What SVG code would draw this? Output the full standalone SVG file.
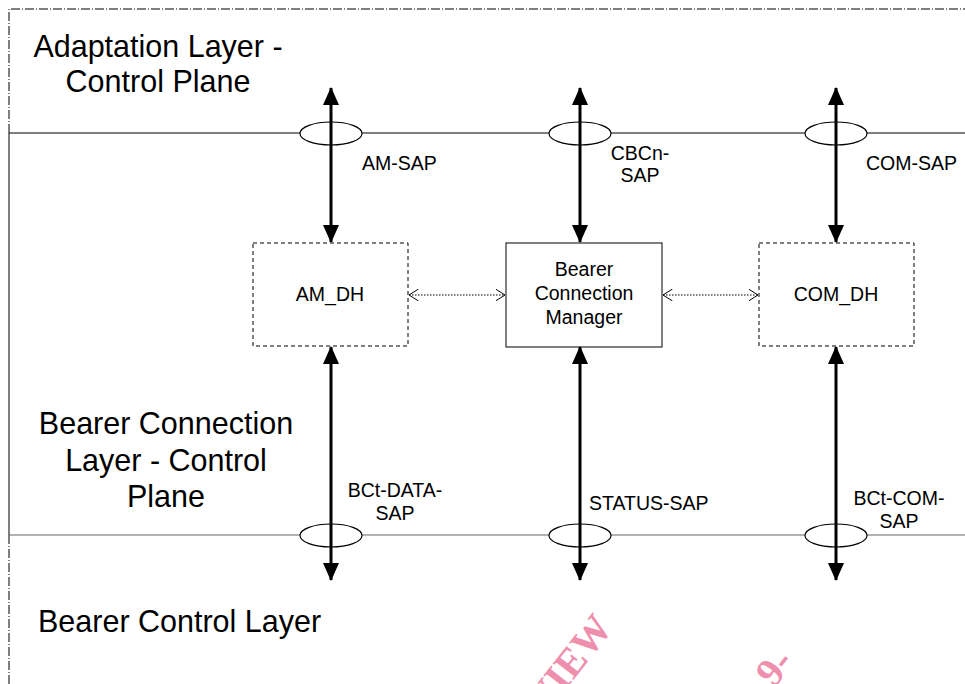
<svg xmlns="http://www.w3.org/2000/svg" width="965" height="684" viewBox="0 0 965 684">
<style>
text{font-family:"Liberation Sans",Arial,sans-serif;fill:#000}
.big{font-size:30.5px}
.sm{font-size:19.5px}
.box{fill:#fff;stroke:#000;stroke-width:1}
.dbox{fill:#fff;stroke:#000;stroke-width:1;stroke-dasharray:4,3}
.border{fill:none;stroke:#000;stroke-width:1;stroke-dasharray:9,2,1,2}
.sap{fill:#fff;stroke:#000;stroke-width:1.2}
.thick{stroke:#000;stroke-width:3;fill:none;marker-start:url(#ah);marker-end:url(#ah)}
.dot{stroke:#000;stroke-width:1;stroke-dasharray:1.5,1.5;fill:none;marker-start:url(#oh);marker-end:url(#oh)}
.wm{font-family:"Liberation Serif",serif;font-weight:bold;fill:#ee8fae;font-size:40px}
</style>
<defs>
<marker id="ah" viewBox="0 0 18 16" refX="17" refY="8" markerWidth="18" markerHeight="16" markerUnits="userSpaceOnUse" orient="auto-start-reverse">
<path d="M0,0 L18,8 L0,16 Z" fill="#000"/>
</marker>
<marker id="oh" viewBox="0 0 10 12" refX="9.5" refY="6" markerWidth="10" markerHeight="12" markerUnits="userSpaceOnUse" orient="auto-start-reverse">
<path d="M0,0 L9.5,6 L0,12" fill="none" stroke="#000" stroke-width="1"/>
</marker>
</defs>
<rect width="965" height="684" fill="#fff"/>
<g id="frame">
<path class="border" d="M9,684 V535 M9,133 V9 H965"/>
<path d="M9,133 V535" stroke="#000" stroke-width="1" fill="none"/>
<line x1="9" y1="133" x2="965" y2="133" stroke="#000" stroke-width="1"/>
<line x1="9" y1="535" x2="965" y2="535" stroke="#666" stroke-width="1.2"/>
</g>
<g id="layer-labels">
<text class="big" x="158" y="57" text-anchor="middle">Adaptation Layer -</text>
<text class="big" x="158" y="92" text-anchor="middle">Control Plane</text>
<text class="big" x="166" y="434" text-anchor="middle">Bearer Connection</text>
<text class="big" x="166" y="471" text-anchor="middle">Layer - Control</text>
<text class="big" x="166" y="507" text-anchor="middle">Plane</text>
<text class="big" x="38" y="632">Bearer Control Layer</text>
</g>
<g id="sap-ellipses">
<ellipse class="sap" cx="331" cy="133.5" rx="31" ry="11.5"/>
<ellipse class="sap" cx="580" cy="133.5" rx="31" ry="11.5"/>
<ellipse class="sap" cx="836" cy="133.5" rx="31" ry="11.5"/>
<ellipse class="sap" cx="331" cy="535.5" rx="31" ry="11.5"/>
<ellipse class="sap" cx="580" cy="535.5" rx="31" ry="11.5"/>
<ellipse class="sap" cx="836" cy="535.5" rx="31" ry="11.5"/>
</g>
<g id="AM_DH">
<rect class="dbox" x="253" y="243" width="155" height="103"/>
<text class="sm" x="330" y="301" text-anchor="middle">AM_DH</text>
</g>
<g id="BCM">
<rect class="box" x="506" y="243" width="156" height="104"/>
<text class="sm" x="584" y="276" text-anchor="middle">Bearer</text>
<text class="sm" x="584" y="300" text-anchor="middle">Connection</text>
<text class="sm" x="584" y="324" text-anchor="middle">Manager</text>
</g>
<g id="COM_DH">
<rect class="dbox" x="759" y="243" width="155" height="103"/>
<text class="sm" x="836" y="301" text-anchor="middle">COM_DH</text>
</g>
<g id="connectors">
<line class="thick" x1="331" y1="88" x2="331" y2="242"/>
<line class="thick" x1="580" y1="88" x2="580" y2="242"/>
<line class="thick" x1="836" y1="88" x2="836" y2="242"/>
<line class="thick" x1="331" y1="347" x2="331" y2="580"/>
<line class="thick" x1="580" y1="347" x2="580" y2="580"/>
<line class="thick" x1="836" y1="347" x2="836" y2="580"/>
<line class="dot" x1="409" y1="295" x2="505" y2="295"/>
<line class="dot" x1="663" y1="295" x2="758" y2="295"/>
</g>
<g id="sap-labels">
<text class="sm" x="362" y="170">AM-SAP</text>
<text class="sm" x="640" y="160" text-anchor="middle">CBCn-</text>
<text class="sm" x="640" y="182" text-anchor="middle">SAP</text>
<text class="sm" x="866" y="170">COM-SAP</text>
<text class="sm" x="395" y="497" text-anchor="middle">BCt-DATA-</text>
<text class="sm" x="395" y="520" text-anchor="middle">SAP</text>
<text class="sm" x="589" y="510">STATUS-SAP</text>
<text class="sm" x="899" y="505" text-anchor="middle">BCt-COM-</text>
<text class="sm" x="899" y="528" text-anchor="middle">SAP</text>
</g>
<g id="watermark">
<text class="wm" transform="translate(614,628) rotate(-52)" text-anchor="end">VIEW</text>
<text class="wm" transform="translate(795,662) rotate(-52)" text-anchor="end">9-</text>
</g>
</svg>
